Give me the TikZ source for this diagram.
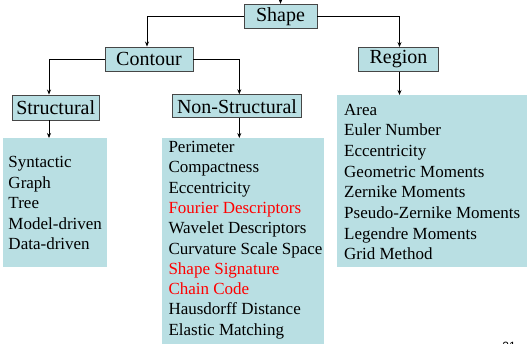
\documentclass[tikz,border=0pt]{standalone}
\usepackage{fontspec}
\setmainfont{Liberation Serif}
\newfontfamily\pagenumfont{Liberation Sans}
\usetikzlibrary{arrows.meta}
\definecolor{boxfill}{RGB}{185,223,227}
\definecolor{boxline}{RGB}{70,70,70}
\definecolor{redtext}{RGB}{255,0,0}
\tikzset{
  head/.style={draw=boxline, line width=0.9pt, fill=boxfill, inner sep=0pt,
    font=\fontsize{20}{24}\selectfont},
  listbox/.style={fill=boxfill, draw=none, inner sep=0pt, anchor=north west},
  listtext/.style={inner sep=0pt, anchor=base west, font=\fontsize{17}{20}\selectfont},
  conn/.style={line width=0.8pt, -{Stealth[length=5pt,width=4pt]}},
}
\begin{document}
\begin{tikzpicture}[x=1pt,y=-1pt]
\useasboundingbox[fill=white] (0,0) rectangle (527,343);
% heading boxes
\node[head, minimum width=73pt, minimum height=24pt] (shape) at (280.5,16.3) {Shape};
\node[head, minimum width=88pt, minimum height=24pt] (contour) at (149,59) {Contour};
\node[head, minimum width=80pt, minimum height=24pt] (region) at (398.5,59.5) {Region};
\node[head, minimum width=87pt, minimum height=25pt] (structural) at (55.7,107.5) {Structural};
\node[head, minimum width=129pt, minimum height=23pt] (nonstructural) at (237,106.2) {Non-Structural};
% list boxes
\node[listbox, minimum width=104pt, minimum height=129pt] (slist) at (2.5,138) {};
\node[listbox, minimum width=162pt, minimum height=206pt] (nlist) at (161.5,138) {};
\node[listbox, minimum width=191pt, minimum height=172pt] (rlist) at (336.5,95) {};
% list texts
\foreach \t [count=\i] in {Syntactic,Graph,Tree,Model-driven,Data-driven}
  \node[listtext] (s\i) at (8.3,{167.5+20.6*(\i-1)}) {\t};
\foreach \t/\c [count=\i] in {Perimeter/black,Compactness/black,Eccentricity/black,
  Fourier Descriptors/redtext,Wavelet Descriptors/black,Curvature Scale Space/black,
  Shape Signature/redtext,Chain Code/redtext,Hausdorff Distance/black,Elastic Matching/black}
  \node[listtext, text=\c] (n\i) at (168.3,{152.7+20.27*(\i-1)}) {\t};
\foreach \t [count=\i] in {Area,Euler Number,Eccentricity,Geometric Moments,Zernike Moments,
  Pseudo-Zernike Moments,Legendre Moments,Grid Method}
  \node[listtext] (r\i) at (344,{115+20.7*(\i-1)}) {\t};
% page number (cut off at bottom)
\node[inner sep=0pt, anchor=base, font=\pagenumfont\fontsize{12}{14}\selectfont] (pagenum) at (509,350) {21};
% connectors
\coordinate (top) at (280.5,-4);
\draw[conn] (top) -- (shape.north);
\draw[conn] (shape.west) -| ([xshift=-2pt]contour.north);
\draw[conn] (shape.east) -| ([xshift=1pt]region.north);
\draw[conn] (contour.west) -| ([xshift=-6.7pt]structural.north);
\draw[conn] (contour.east) -| ([xshift=2.3pt]nonstructural.north);
\draw[conn] ([xshift=-6.7pt]structural.south) -- ([xshift=-6.7pt]structural.south |- slist.north);
\draw[conn] ([xshift=2.3pt]nonstructural.south) -- ([xshift=2.3pt]nonstructural.south |- nlist.north);
\draw[conn] ([xshift=1pt]region.south) -- ([xshift=1pt]region.south |- rlist.north);
\end{tikzpicture}
\end{document}
